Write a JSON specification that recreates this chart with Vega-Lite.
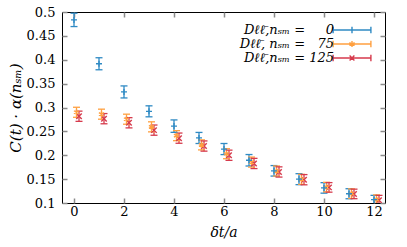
{
  "$schema": "https://vega.github.io/schema/vega-lite/v6.json",
  "width": 323,
  "height": 191,
  "autosize": {"type": "none"},
  "padding": {"left": 62, "top": 12, "right": 22, "bottom": 44},
  "background": "white",
  "config": {
    "view": {"stroke": "#000", "strokeWidth": 1},
    "axis": {
      "domain": false,
      "grid": false,
      "ticks": true,
      "tickSize": -5,
      "tickColor": "#8a8a8a",
      "tickWidth": 1.5,
      "labelFont": "DejaVu Serif",
      "labelFontSize": 13,
      "labelColor": "#000",
      "titleFont": "DejaVu Serif",
      "titleFontSize": 14,
      "titleFontStyle": "italic",
      "titleFontWeight": "normal",
      "titleColor": "#000"
    },
    "legend": {
      "orient": "top-right",
      "offset": 11,
      "labelAlign": "right",
      "labelOffset": -25,
      "labelFont": "DejaVu Serif",
      "labelFontSize": 13,
      "labelFontStyle": "italic",
      "labelColor": "#000",
      "labelLimit": 300,
      "symbolSize": 144,
      "symbolStrokeWidth": 1.4,
      "symbolOpacity": 1,
      "rowPadding": 0
    }
  },
  "datasets": {
    "pts": [
      {"s": "D\u2113\u2113\u0304,n\u209b\u2098 = \u2007\u20070", "x": 0, "y": 0.4835, "lo": 0.4695, "hi": 0.4975},
      {"s": "D\u2113\u2113\u0304,n\u209b\u2098 = \u2007\u20070", "x": 1, "y": 0.3916, "lo": 0.379, "hi": 0.4042},
      {"s": "D\u2113\u2113\u0304,n\u209b\u2098 = \u2007\u20070", "x": 2, "y": 0.3326, "lo": 0.32, "hi": 0.3452},
      {"s": "D\u2113\u2113\u0304,n\u209b\u2098 = \u2007\u20070", "x": 3, "y": 0.292, "lo": 0.2805, "hi": 0.3035},
      {"s": "D\u2113\u2113\u0304,n\u209b\u2098 = \u2007\u20070", "x": 4, "y": 0.261, "lo": 0.248, "hi": 0.274},
      {"s": "D\u2113\u2113\u0304,n\u209b\u2098 = \u2007\u20070", "x": 5, "y": 0.2362, "lo": 0.2246, "hi": 0.2478},
      {"s": "D\u2113\u2113\u0304,n\u209b\u2098 = \u2007\u20070", "x": 6, "y": 0.213, "lo": 0.2014, "hi": 0.2246},
      {"s": "D\u2113\u2113\u0304,n\u209b\u2098 = \u2007\u20070", "x": 7, "y": 0.1895, "lo": 0.1775, "hi": 0.2015},
      {"s": "D\u2113\u2113\u0304,n\u209b\u2098 = \u2007\u20070", "x": 8, "y": 0.1674, "lo": 0.1564, "hi": 0.1784},
      {"s": "D\u2113\u2113\u0304,n\u209b\u2098 = \u2007\u20070", "x": 9, "y": 0.1499, "lo": 0.1384, "hi": 0.1614},
      {"s": "D\u2113\u2113\u0304,n\u209b\u2098 = \u2007\u20070", "x": 10, "y": 0.1316, "lo": 0.1206, "hi": 0.1426},
      {"s": "D\u2113\u2113\u0304,n\u209b\u2098 = \u2007\u20070", "x": 11, "y": 0.1194, "lo": 0.1089, "hi": 0.1299},
      {"s": "D\u2113\u2113\u0304,n\u209b\u2098 = \u2007\u20070", "x": 12, "y": 0.107, "lo": 0.098, "hi": 0.116},
      {"s": "D\u2113\u2113\u0304, n\u209b\u2098 = \u200775", "x": 0.1, "y": 0.29, "lo": 0.2795, "hi": 0.3005},
      {"s": "D\u2113\u2113\u0304, n\u209b\u2098 = \u200775", "x": 1.1, "y": 0.286, "lo": 0.2755, "hi": 0.2965},
      {"s": "D\u2113\u2113\u0304, n\u209b\u2098 = \u200775", "x": 2.1, "y": 0.2755, "lo": 0.265, "hi": 0.286},
      {"s": "D\u2113\u2113\u0304, n\u209b\u2098 = \u200775", "x": 3.1, "y": 0.2594, "lo": 0.249, "hi": 0.27},
      {"s": "D\u2113\u2113\u0304, n\u209b\u2098 = \u200775", "x": 4.1, "y": 0.241, "lo": 0.2305, "hi": 0.2515},
      {"s": "D\u2113\u2113\u0304, n\u209b\u2098 = \u200775", "x": 5.1, "y": 0.2217, "lo": 0.2112, "hi": 0.2322},
      {"s": "D\u2113\u2113\u0304, n\u209b\u2098 = \u200775", "x": 6.1, "y": 0.2032, "lo": 0.1927, "hi": 0.2137},
      {"s": "D\u2113\u2113\u0304, n\u209b\u2098 = \u200775", "x": 7.1, "y": 0.1857, "lo": 0.1752, "hi": 0.1962},
      {"s": "D\u2113\u2113\u0304, n\u209b\u2098 = \u200775", "x": 8.1, "y": 0.167, "lo": 0.1565, "hi": 0.1775},
      {"s": "D\u2113\u2113\u0304, n\u209b\u2098 = \u200775", "x": 9.1, "y": 0.1495, "lo": 0.139, "hi": 0.16},
      {"s": "D\u2113\u2113\u0304, n\u209b\u2098 = \u200775", "x": 10.1, "y": 0.1333, "lo": 0.1233, "hi": 0.1433},
      {"s": "D\u2113\u2113\u0304, n\u209b\u2098 = \u200775", "x": 11.1, "y": 0.1196, "lo": 0.1096, "hi": 0.1296},
      {"s": "D\u2113\u2113\u0304, n\u209b\u2098 = \u200775", "x": 12.1, "y": 0.107, "lo": 0.097, "hi": 0.117},
      {"s": "D\u2113\u2113\u0304,n\u209b\u2098 = 125", "x": 0.2, "y": 0.2817, "lo": 0.271, "hi": 0.2924},
      {"s": "D\u2113\u2113\u0304,n\u209b\u2098 = 125", "x": 1.2, "y": 0.2766, "lo": 0.2659, "hi": 0.2873},
      {"s": "D\u2113\u2113\u0304,n\u209b\u2098 = 125", "x": 2.2, "y": 0.268, "lo": 0.2573, "hi": 0.2787},
      {"s": "D\u2113\u2113\u0304,n\u209b\u2098 = 125", "x": 3.2, "y": 0.2526, "lo": 0.2419, "hi": 0.2633},
      {"s": "D\u2113\u2113\u0304,n\u209b\u2098 = 125", "x": 4.2, "y": 0.2358, "lo": 0.2251, "hi": 0.2465},
      {"s": "D\u2113\u2113\u0304,n\u209b\u2098 = 125", "x": 5.2, "y": 0.2193, "lo": 0.2086, "hi": 0.23},
      {"s": "D\u2113\u2113\u0304,n\u209b\u2098 = 125", "x": 6.2, "y": 0.2, "lo": 0.1893, "hi": 0.2107},
      {"s": "D\u2113\u2113\u0304,n\u209b\u2098 = 125", "x": 7.2, "y": 0.1828, "lo": 0.1721, "hi": 0.1935},
      {"s": "D\u2113\u2113\u0304,n\u209b\u2098 = 125", "x": 8.2, "y": 0.165, "lo": 0.1543, "hi": 0.1757},
      {"s": "D\u2113\u2113\u0304,n\u209b\u2098 = 125", "x": 9.2, "y": 0.1488, "lo": 0.1381, "hi": 0.1595},
      {"s": "D\u2113\u2113\u0304,n\u209b\u2098 = 125", "x": 10.2, "y": 0.1327, "lo": 0.1227, "hi": 0.1427},
      {"s": "D\u2113\u2113\u0304,n\u209b\u2098 = 125", "x": 11.2, "y": 0.119, "lo": 0.109, "hi": 0.129},
      {"s": "D\u2113\u2113\u0304,n\u209b\u2098 = 125", "x": 12.2, "y": 0.106, "lo": 0.096, "hi": 0.116}
    ]
  },
  "data": {"name": "pts"},
  "layer": [
    {
      "mark": {"type": "rule", "strokeWidth": 1.3, "clip": true},
      "encoding": {
        "x": {"field": "x", "type": "quantitative", "scale": {"domain": [-0.48, 12.44], "nice": false, "zero": false},
          "axis": {"tickCount": 6, "title": "\u03b4t/a", "labelPadding": 7, "titlePadding": 7}},
        "y": {"field": "lo", "type": "quantitative", "scale": {"domain": [0.1, 0.5], "nice": false, "zero": false},
          "axis": {"tickCount": 8, "format": "~g", "title": "C(t) \u00b7 \u03b1(n\u209b\u2098)", "titleFontSize": 15, "labelPadding": 12, "titlePadding": 3}},
        "y2": {"field": "hi"},
        "stroke": {"field": "s", "type": "nominal", "legend": null,
          "scale": {"domain": ["D\u2113\u2113\u0304,n\u209b\u2098 = 125", "D\u2113\u2113\u0304,n\u209b\u2098 = \u2007\u20070", "D\u2113\u2113\u0304, n\u209b\u2098 = \u200775"], "range": ["#d63a4c", "#2f8ac4", "#ffa040"]}}
      }
    },
    {
      "mark": {"type": "point", "shape": "M-1,0H1", "filled": false, "size": 49, "strokeWidth": 1.3, "opacity": 1, "clip": true},
      "encoding": {
        "x": {"field": "x", "type": "quantitative", "axis": null},
        "y": {"field": "hi", "type": "quantitative", "axis": null},
        "stroke": {"field": "s", "type": "nominal", "legend": null}
      }
    },
    {
      "mark": {"type": "point", "shape": "M-1,0H1", "filled": false, "size": 49, "strokeWidth": 1.3, "opacity": 1, "clip": true},
      "encoding": {
        "x": {"field": "x", "type": "quantitative", "axis": null},
        "y": {"field": "lo", "type": "quantitative", "axis": null},
        "stroke": {"field": "s", "type": "nominal", "legend": null}
      }
    },
    {
      "transform": [{"filter": "indexof(datum.s, '125') >= 0"}],
      "mark": {"type": "point", "shape": "M-1,-1L1,1M-1,1L1,-1", "filled": false, "size": 30, "strokeWidth": 1.4, "opacity": 1, "clip": true},
      "encoding": {
        "x": {"field": "x", "type": "quantitative", "axis": null},
        "y": {"field": "y", "type": "quantitative", "axis": null},
        "stroke": {"field": "s", "type": "nominal", "legend": null}
      }
    },
    {
      "transform": [{"filter": "indexof(datum.s, '75') >= 0"}],
      "mark": {"type": "point", "shape": "M0,-1V1M-0.87,-0.5L0.87,0.5M-0.87,0.5L0.87,-0.5", "filled": false, "size": 36, "strokeWidth": 1.3, "opacity": 1, "clip": true},
      "encoding": {
        "x": {"field": "x", "type": "quantitative", "axis": null},
        "y": {"field": "y", "type": "quantitative", "axis": null},
        "stroke": {"field": "s", "type": "nominal", "legend": null}
      }
    },
    {
      "transform": [{"filter": "indexof(datum.s, '= \u2007\u20070') >= 0"}],
      "mark": {"type": "point", "shape": "M-1,0H1M0,-1V1", "filled": false, "size": 36, "strokeWidth": 1.3, "opacity": 1, "clip": true},
      "encoding": {
        "x": {"field": "x", "type": "quantitative", "axis": null},
        "y": {"field": "y", "type": "quantitative", "axis": null},
        "stroke": {"field": "s", "type": "nominal", "legend": null}
      }
    },
    {
      "transform": [{"filter": "datum.x < -100"}],
      "mark": {"type": "point", "filled": false, "strokeWidth": 1.4},
      "encoding": {
        "x": {"field": "x", "type": "quantitative", "axis": {"orient": "top", "tickCount": 6, "labels": false, "title": null}},
        "y": {"field": "y", "type": "quantitative", "axis": {"orient": "right", "tickCount": 8, "labels": false, "title": null}},
        "color": {"field": "s", "type": "nominal", "legend": {"title": null},
          "scale": {"domain": ["D\u2113\u2113\u0304,n\u209b\u2098 = \u2007\u20070", "D\u2113\u2113\u0304, n\u209b\u2098 = \u200775", "D\u2113\u2113\u0304,n\u209b\u2098 = 125"], "range": ["#2f8ac4", "#ffa040", "#d63a4c"]}},
        "shape": {"field": "s", "type": "nominal", "legend": {"title": null},
          "scale": {"domain": ["D\u2113\u2113\u0304,n\u209b\u2098 = \u2007\u20070", "D\u2113\u2113\u0304, n\u209b\u2098 = \u200775", "D\u2113\u2113\u0304,n\u209b\u2098 = 125"],
            "range": [
              "M-3.15,0H3.15M-3.15,-0.55V0.55M3.15,-0.55V0.55M0,-0.55V0.55",
              "M-3.15,0H3.15M-3.15,-0.55V0.55M3.15,-0.55V0.55M0,-0.5V0.5M-0.43,-0.25L0.43,0.25M-0.43,0.25L0.43,-0.25",
              "M-3.15,0H3.15M-3.15,-0.55V0.55M3.15,-0.55V0.55M-0.4,-0.4L0.4,0.4M-0.4,0.4L0.4,-0.4"
            ]}}
      }
    }
  ],
  "resolve": {"axis": {"x": "independent", "y": "independent"}}
}
